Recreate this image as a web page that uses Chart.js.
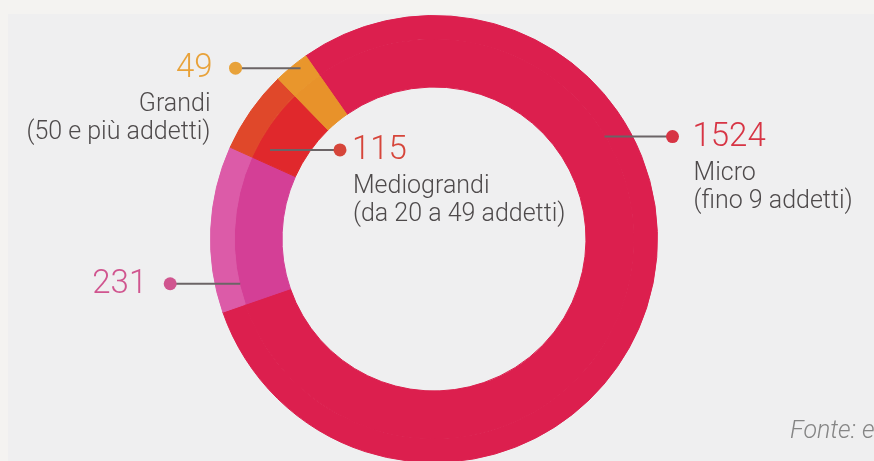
<!DOCTYPE html>
<html>
<head>
<meta charset="utf-8">
<script src="https://cdn.jsdelivr.net/npm/chart.js@4.4.0/dist/chart.umd.min.js"></script>
<style>
  html, body { margin: 0; padding: 0; overflow: hidden; background: #f4f3f1; }
  #wrap { position: relative; width: 874px; height: 480px; }
</style>
</head>
<body>
<div id="wrap"><canvas id="chart" width="874" height="480"></canvas></div>
<script>
// Imprese per dimensione (numero di addetti)
const categories = ['Micro', 'Piccole', 'Mediograndi', 'Grandi'];
const values = [1524, 231, 115, 49];
const descriptions = [
    ['Micro', '(fino 9 addetti)'],
    [],
    ['Mediograndi', '(da 20 a 49 addetti)'],
    ['Grandi', '(50 e più addetti)']
];
const sourceNote = 'Fonte: e';

// colours: outer band / inner band of each slice
const outerColors = ['#dc1f4e', '#dc5ba8', '#e0482a', '#e9962c'];
const innerColors = ['#dc1f4e', '#d43f96', '#e0282c', '#e8922a'];
const numberColors = ['#d73444', '#d0558f', '#d6453a', '#e8a23a'];

// where each leader line leaves the ring (deg clockwise from top, fraction of outer radius)
const leaders = [
    { angle: 59, rFrac: 0.89, dx: 68, textGap: 20 },
    { angle: 257, rFrac: 0.89, dx: -70, textGap: 23 },
    { angle: 298.5, rFrac: 0.835, dx: 70, textGap: 12 },
    { angle: 322, rFrac: 0.97, dx: -65, textGap: 23 }
];

const FONT = 'Roboto, "Open Sans", sans-serif';

const backgroundPanel = {
    id: 'backgroundPanel',
    beforeDraw(chart) {
        const c = chart.ctx;
        c.save();
        c.fillStyle = '#f4f3f1';
        c.fillRect(0, 0, chart.width, chart.height);
        c.fillStyle = '#efeff0';
        c.fillRect(8, 14, chart.width - 8, chart.height - 14);
        c.restore();
    }
};

const leaderLabels = {
    id: 'leaderLabels',
    afterDraw(chart) {
        const c = chart.ctx;
        const meta = chart.getDatasetMeta(0);
        c.save();
        meta.data.forEach((arc, i) => {
            const L = leaders[i];
            const a = L.angle * Math.PI / 180;
            const r = arc.outerRadius * L.rFrac;
            const x0 = arc.x + r * Math.sin(a);
            const y0 = arc.y - r * Math.cos(a);
            const x1 = x0 + L.dx;

            c.strokeStyle = '#6b6466';
            c.lineWidth = 2;
            c.beginPath();
            c.moveTo(x0, y0);
            c.lineTo(x1, y0);
            c.stroke();

            c.fillStyle = numberColors[i];
            c.beginPath();
            c.arc(x1, y0, 6.5, 0, Math.PI * 2);
            c.fill();

            const right = L.dx > 0;
            const tx = right ? x1 + L.textGap : x1 - L.textGap;
            c.textAlign = right ? 'left' : 'right';
            c.textBaseline = 'middle';
            c.font = '300 33px ' + FONT;
            c.fillText(String(values[i]), tx, y0 + 1);

            c.fillStyle = '#4e4a4b';
            c.font = '300 25px ' + FONT;
            const dtx = right ? tx + 1 : tx - 2;
            descriptions[i].forEach((line, k) => {
                c.fillText(line, dtx, y0 + 37 + k * 28);
            });
        });

        c.fillStyle = '#858585';
        c.font = 'italic 300 25px ' + FONT;
        c.textAlign = 'left';
        c.textBaseline = 'middle';
        c.fillText(sourceNote, 790, 432);
        c.restore();
    }
};

new Chart(document.getElementById('chart'), {
    type: 'doughnut',
    data: {
        labels: categories,
        datasets: [
            { data: values, backgroundColor: outerColors, borderColor: outerColors, borderWidth: 1, weight: 1 },
            { data: values, backgroundColor: innerColors, borderColor: innerColors, borderWidth: 1, weight: 2 }
        ]
    },
    options: {
        responsive: false,
        animation: false,
        rotation: -35,
        cutout: '68%',
        layout: { padding: { left: 210, right: 216, top: 15, bottom: 17 } },
        plugins: {
            legend: { display: false },
            tooltip: { enabled: false }
        }
    },
    plugins: [backgroundPanel, leaderLabels]
});
</script>
</body>
</html>
